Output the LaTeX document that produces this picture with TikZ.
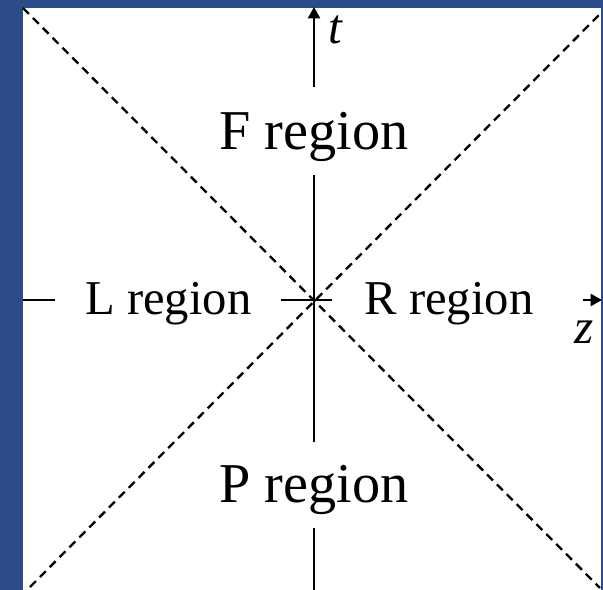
\documentclass[tikz,border=0pt]{standalone}
\usepackage{fontspec}
\setmainfont{Liberation Serif}
\usetikzlibrary{arrows.meta}
\definecolor{slideblue}{RGB}{43,76,136}

\tikzset{
  axisline/.style={line width=1.9pt},
  lightcone/.style={line width=2pt,dash pattern=on 0.25cm off 0.17cm},
  bigregion/.style={inner sep=0pt,anchor=base,font=\fontsize{48}{52}\selectfont},
  sideregion/.style={inner sep=0pt,anchor=base,font=\fontsize{41.5}{46}\selectfont},
  axislabel/.style={inner sep=0pt,font=\fontsize{42}{46}\selectfont\itshape}
}

\begin{document}
\begin{tikzpicture}[>={Triangle[length=0.34cm,width=0.36cm]}, line cap=butt]

% ---------- frame ----------
\useasboundingbox (-9.42,-8.7) rectangle (8.67,9.0);
\fill[slideblue] (-9.42,-8.7) rectangle (8.67,9.0);
\fill[white] (-8.73,-8.7) rectangle (8.61,8.76);

% ---------- light cone ----------
\coordinate (nw) at (-8.73,8.76);
\coordinate (se) at (8.58,-8.64);
\coordinate (ne) at (8.61,8.61);
\coordinate (sw) at (-8.52,-8.61);
\draw[lightcone] (nw) -- (se);
\draw[lightcone] (sw) -- (ne);

% ---------- region labels ----------
\node[bigregion] (Fregion) at (0,4.5) {F region};
\node[bigregion] (Pregion) at (0,-6.09) {P region};
\node[sideregion] (Lregion) at (-4.37,-0.45) {L region};
\node[sideregion] (Rregion) at (4.05,-0.45) {R region};

% ---------- t axis ----------
\coordinate (tbot) at (0,-8.7);
\coordinate (tp1) at (0,-6.84);
\coordinate (tp2) at (0,-4.26);
\coordinate (tf1) at (0,3.75);
\coordinate (tf2) at (0,6.39);
\coordinate (ttop) at (0,8.79);
\draw[axisline] (tbot) -- (tp1);
\draw[axisline] (tp2) -- (tf1);
\draw[axisline,->] (tf2) -- (ttop);
\node[axislabel] (tlabel) at (0.65,8.1) {t};

% ---------- z axis ----------
\coordinate (zleft) at (-8.73,0);
\coordinate (zl1) at (-7.77,0);
\coordinate (zl2) at (-0.99,0);
\coordinate (zr1) at (0.54,0);
\coordinate (zr2) at (8.07,0);
\coordinate (zright) at (8.64,0);
\draw[axisline] (zleft) -- (zl1);
\draw[axisline] (zl2) -- (zr1);
\draw[axisline,->] (zr2) -- (zright);
\node[axislabel] (zlabel) at (8.1,-0.96) {z};

\end{tikzpicture}
\end{document}
